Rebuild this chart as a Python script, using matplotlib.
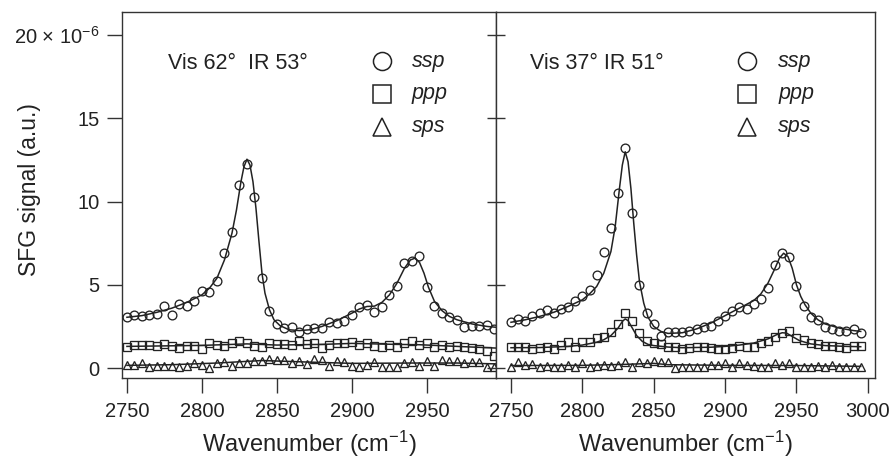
import numpy as np
import matplotlib
matplotlib.use("Agg")
import matplotlib.pyplot as plt

plt.rcParams['font.family'] = ['Liberation Sans', 'DejaVu Sans']
plt.rcParams['mathtext.fontset'] = 'custom'
plt.rcParams['mathtext.rm'] = 'Liberation Sans'
plt.rcParams['mathtext.it'] = 'Liberation Sans:italic'

# ---------------- data ----------------
wavenumber = list(range(2750, 3000, 5))  # 50 points

left_ssp = [3.08, 3.18, 3.14, 3.20, 3.26, 3.74, 3.18, 3.84, 3.74, 4.04,
            4.64, 4.54, 5.24, 6.89, 8.15, 10.99, 12.29, 10.29, 5.41, 3.40,
            2.64, 2.38, 2.44, 2.16, 2.34, 2.38, 2.42, 2.78, 2.68, 2.82,
            3.18, 3.64, 3.76, 3.38, 3.68, 4.38, 4.94, 6.29, 6.45, 6.73,
            4.88, 3.74, 3.28, 3.04, 2.88, 2.44, 2.52, 2.52, 2.60, 2.32]
left_ppp = [1.25, 1.36, 1.38, 1.38, 1.34, 1.42, 1.34, 1.22, 1.34, 1.32,
            1.12, 1.52, 1.38, 1.32, 1.48, 1.62, 1.52, 1.32, 1.25, 1.52,
            1.42, 1.44, 1.38, 1.64, 1.44, 1.52, 1.20, 1.38, 1.52, 1.52,
            1.54, 1.38, 1.48, 1.34, 1.28, 1.36, 1.28, 1.48, 1.64, 1.38,
            1.48, 1.25, 1.36, 1.25, 1.32, 1.25, 1.18, 1.16, 1.04, 0.70]
left_sps = [0.18, 0.16, 0.28, 0.04, 0.12, 0.14, 0.12, 0.08, 0.12, 0.32,
            0.18, 0.00, 0.32, 0.34, 0.12, 0.32, 0.28, 0.44, 0.44, 0.52,
            0.48, 0.48, 0.28, 0.42, 0.22, 0.52, 0.48, 0.12, 0.42, 0.38,
            0.12, 0.04, 0.16, 0.34, 0.08, 0.06, 0.06, 0.28, 0.38, 0.12,
            0.42, 0.14, 0.48, 0.44, 0.44, 0.28, 0.38, 0.38, 0.04, 0.08]

right_ssp = [2.78, 2.96, 2.84, 3.12, 3.30, 3.48, 3.28, 3.52, 3.68, 4.02,
             4.32, 4.68, 5.59, 6.95, 8.43, 10.55, 13.25, 9.29, 4.98, 3.32,
             2.62, 1.92, 2.14, 2.16, 2.18, 2.22, 2.32, 2.44, 2.54, 2.82,
             3.14, 3.44, 3.64, 3.54, 3.84, 4.14, 4.79, 6.17, 6.89, 6.67,
             4.91, 3.74, 3.08, 2.88, 2.44, 2.32, 2.22, 2.20, 2.32, 2.12]
right_ppp = [1.24, 1.24, 1.28, 1.12, 1.18, 1.28, 1.16, 1.38, 1.54, 1.24,
             1.58, 1.58, 1.78, 1.88, 2.16, 2.62, 3.30, 2.82, 2.08, 1.62,
             1.48, 1.42, 1.28, 1.24, 1.14, 1.18, 1.24, 1.28, 1.18, 1.14,
             1.12, 1.20, 1.32, 1.24, 1.24, 1.52, 1.62, 1.84, 2.08, 2.22,
             1.78, 1.68, 1.48, 1.42, 1.32, 1.32, 1.28, 1.18, 1.32, 1.32]
right_sps = [0.08, 0.34, 0.18, 0.22, 0.04, 0.12, 0.08, 0.04, 0.18, 0.04,
             0.28, 0.08, 0.14, 0.18, 0.14, 0.18, 0.34, 0.04, 0.34, 0.28,
             0.42, 0.34, 0.34, -0.02, 0.04, 0.04, 0.08, 0.04, 0.16, 0.16,
             0.28, 0.08, 0.28, 0.18, 0.14, 0.08, 0.08, 0.28, 0.18, 0.28,
             0.04, 0.08, 0.04, 0.14, 0.08, 0.18, 0.08, 0.04, 0.04, 0.04]

# fitted curves
left_ssp_fit_x = [2750, 2760, 2770, 2780, 2790, 2800, 2805, 2810, 2815, 2820, 2823, 2826,
                  2828, 2830, 2832, 2834, 2836, 2838, 2840, 2842, 2845, 2848, 2852, 2858,
                  2865, 2872, 2880, 2890, 2900, 2905, 2910, 2915, 2920, 2925, 2930, 2935,
                  2939, 2942, 2945, 2948, 2951, 2955, 2960, 2965, 2970, 2980, 2990, 2996]
left_ssp_fit_y = [3.05, 3.15, 3.35, 3.6, 3.95, 4.4, 4.8, 5.4, 6.5, 8.1, 9.5, 11.2,
                  12.1, 12.55, 12.2, 11.2, 9.6, 7.6, 5.7, 4.5, 3.5, 2.9, 2.55, 2.3,
                  2.25, 2.3, 2.5, 2.85, 3.3, 3.55, 3.7, 3.72, 3.95, 4.4, 5.1, 6.0,
                  6.5, 6.6, 6.35, 5.7, 4.85, 4.0, 3.45, 3.1, 2.9, 2.65, 2.5, 2.45]
left_ppp_fit_x = [2750, 2800, 2830, 2850, 2880, 2900, 2930, 2945, 2970, 2996]
left_ppp_fit_y = [1.3, 1.36, 1.45, 1.38, 1.42, 1.48, 1.42, 1.4, 1.3, 1.2]
left_sps_fit_x = [2750, 2780, 2810, 2840, 2870, 2900, 2940, 2970, 2996]
left_sps_fit_y = [0.16, 0.2, 0.3, 0.45, 0.36, 0.28, 0.3, 0.3, 0.25]

right_ssp_fit_x = [2750, 2760, 2770, 2780, 2790, 2800, 2805, 2810, 2815, 2820, 2823, 2826,
                   2828, 2830, 2832, 2834, 2836, 2838, 2840, 2843, 2846, 2850, 2855, 2860,
                   2870, 2880, 2890, 2900, 2910, 2920, 2925, 2930, 2935, 2938, 2941, 2944,
                   2947, 2950, 2953, 2956, 2960, 2965, 2970, 2980, 2990, 2995]
right_ssp_fit_y = [2.75, 2.9, 3.1, 3.35, 3.7, 4.1, 4.45, 4.9, 5.7, 7.0, 8.5, 10.8,
                   12.2, 13.0, 12.4, 10.8, 8.7, 6.8, 5.2, 3.9, 3.05, 2.5, 2.2, 2.08,
                   2.12, 2.35, 2.7, 3.15, 3.6, 4.05, 4.45, 5.1, 6.0, 6.6, 6.9, 6.7,
                   6.0, 5.0, 4.3, 3.8, 3.3, 2.9, 2.65, 2.4, 2.25, 2.2]
right_ppp_fit_x = [2750, 2770, 2790, 2800, 2810, 2815, 2820, 2825, 2828, 2830, 2832, 2835,
                   2838, 2842, 2846, 2850, 2860, 2870, 2890, 2900, 2910, 2920, 2930, 2936,
                   2940, 2943, 2947, 2952, 2960, 2970, 2985, 2995]
right_ppp_fit_y = [1.22, 1.23, 1.3, 1.38, 1.55, 1.7, 1.95, 2.4, 2.8, 2.95, 2.85, 2.4,
                   1.95, 1.6, 1.42, 1.35, 1.26, 1.22, 1.25, 1.3, 1.38, 1.5, 1.75, 2.0,
                   2.12, 2.1, 1.9, 1.65, 1.45, 1.35, 1.3, 1.28]
right_sps_fit_x = [2750, 2800, 2830, 2850, 2860, 2900, 2950, 2995]
right_sps_fit_y = [0.15, 0.16, 0.22, 0.28, 0.2, 0.16, 0.15, 0.1]

panel_titles = ["Vis 62\u00b0  IR 53\u00b0", "Vis 37\u00b0 IR 51\u00b0"]
legend_labels = ["ssp", "ppp", "sps"]
ytick_vals = [0, 5, 10, 15, 20]
ytick_labels = ["0", "5", "10", "15", "20 \u00d7 10$^{\u22126}$"]
xticks_left = [2750, 2800, 2850, 2900, 2950]
xticks_right = [2750, 2800, 2850, 2900, 2950, 3000]

# ---------------- figure ----------------
W, H = 891, 466
fig = plt.figure(figsize=(W / 100, H / 100), dpi=100)
ylim = (-0.6, 21.4)
bottom = 1 - 378 / H
height = (378 - 12) / H
axL = fig.add_axes([122 / W, bottom, (496 - 122) / W, height])
axR = fig.add_axes([496 / W, bottom, (875 - 496) / W, height])

spine_col = '#333333'
mk_col = '#222222'
txt_col = '#222222'
ms = dict(mfc='none', mec=mk_col, mew=0.95, ls='none')

def draw(ax, ssp, ppp, sps, fits):
    for fx, fy in fits:
        ax.plot(fx, fy, color=mk_col, lw=1.1, zorder=2)
    ax.plot(wavenumber, ssp, marker='o', ms=6.3, zorder=3, **ms)
    ax.plot(wavenumber, ppp, marker='s', ms=5.8, zorder=3, **ms)
    ax.plot(wavenumber, sps, marker='^', ms=6.0, zorder=3, **ms)
    ax.set_ylim(*ylim)
    for s in ax.spines.values():
        s.set_color(spine_col)
        s.set_linewidth(1.0)

draw(axL, left_ssp, left_ppp, left_sps,
     [(left_ssp_fit_x, left_ssp_fit_y), (left_ppp_fit_x, left_ppp_fit_y),
      (left_sps_fit_x, left_sps_fit_y)])
draw(axR, right_ssp, right_ppp, right_sps,
     [(right_ssp_fit_x, right_ssp_fit_y), (right_ppp_fit_x, right_ppp_fit_y),
      (right_sps_fit_x, right_sps_fit_y)])

axL.set_xlim(2746.7, 2996)
axR.set_xlim(2739.5, 3005)

axL.set_xticks(xticks_left)
axR.set_xticks(xticks_right)
axL.set_yticks(ytick_vals)
axL.set_yticklabels(ytick_labels)
axR.set_yticks(ytick_vals)
axR.set_yticklabels([])

for ax in (axL, axR):
    ax.tick_params(axis='x', direction='out', length=11, width=1.0, color=spine_col,
                   labelsize=14.5, pad=6, labelcolor=txt_col)
    ax.set_xlabel("Wavenumber (cm$^{\u22121}$)", fontsize=17, labelpad=6, color=txt_col)
axL.tick_params(axis='y', direction='out', length=11, width=1.0, color=spine_col,
                labelsize=14.5, pad=5, labelcolor=txt_col)
axR.tick_params(axis='y', direction='inout', length=13, width=1.0, color=spine_col)

fig.text(30 / W, 1 - 190 / H, "SFG signal (a.u.)", rotation=90, ha='center', va='center',
         fontsize=16.5, color=txt_col)

# panel annotations and legends
for ax, title, tx, mx, lx in ((axL, panel_titles[0], 0.123, 0.694, 0.775),
                              (axR, panel_titles[1], 0.090, 0.661, 0.745)):
    ax.text(tx, 0.858, title, transform=ax.transAxes, fontsize=15.5, va='center',
            ha='left', color=txt_col)
    for lab, mk, yy in zip(legend_labels, ['o', 's', '^'], [0.866, 0.776, 0.686]):
        ax.plot([mx], [yy], transform=ax.transAxes, marker=mk, ms=13 if mk != 's' else 12.5,
                mfc='none', mec=mk_col, mew=1.1, ls='none', clip_on=False)
        ax.text(lx, yy, lab, transform=ax.transAxes, fontsize=15.5, style='italic',
                va='center', ha='left', color=txt_col)

fig.savefig("out.png", dpi=100)
